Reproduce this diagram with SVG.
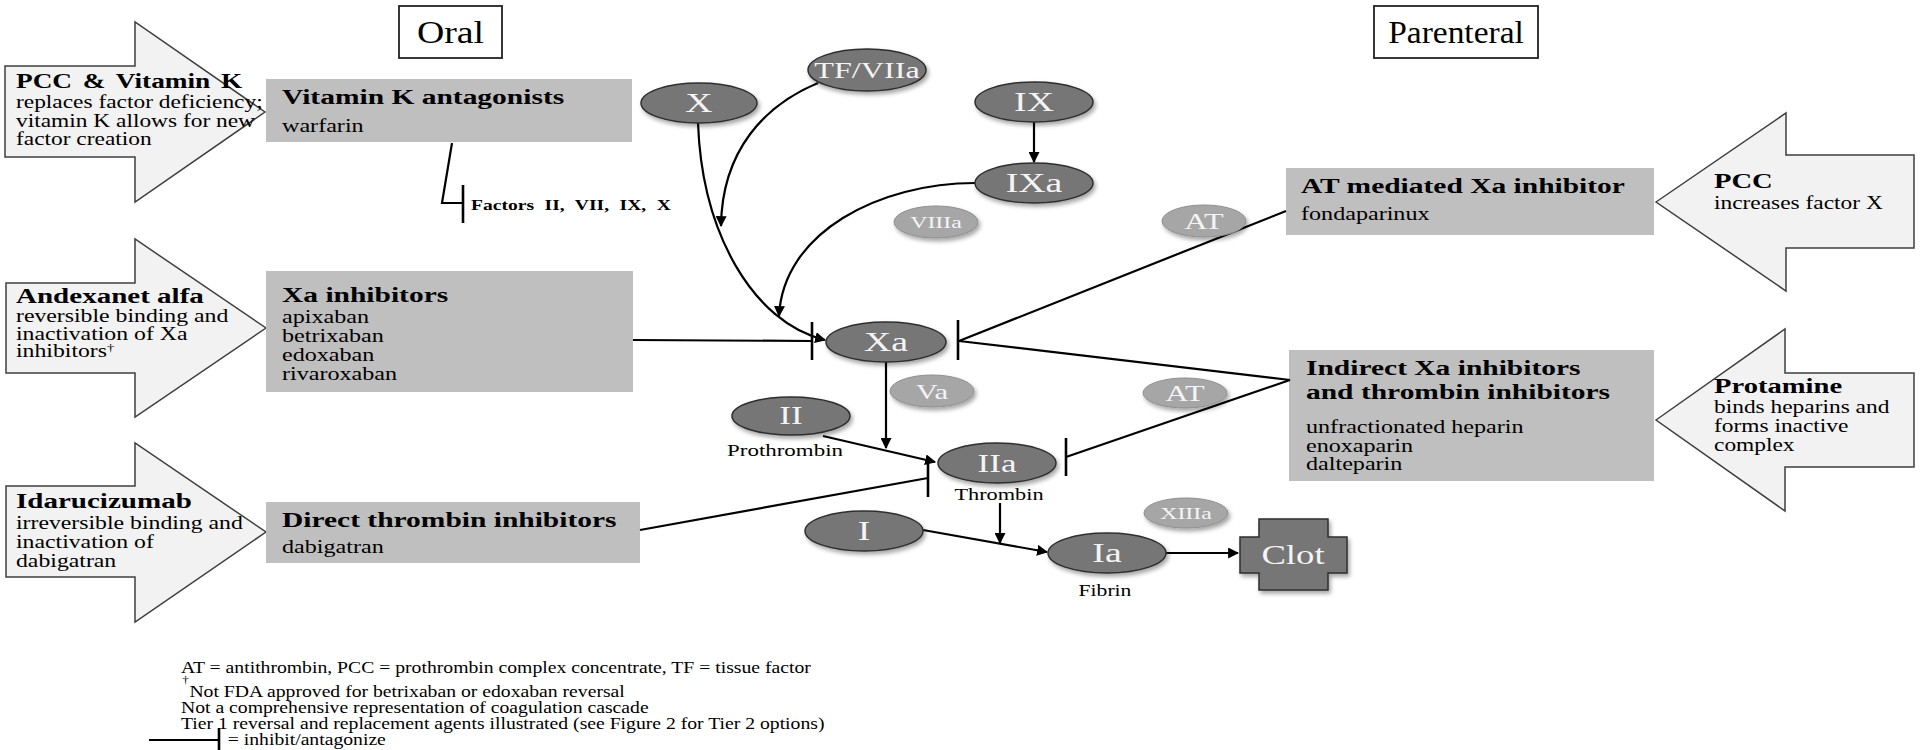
<svg xmlns="http://www.w3.org/2000/svg" width="1920" height="750" viewBox="0 0 1920 750">
<style>
.bg{fill:#fff}
.rev{fill:#f2f2f2;stroke:#3f3f3f;stroke-width:1.5}
.gbox{fill:#bfbfbf}
.hdr{fill:#fff;stroke:#222;stroke-width:1.8}
.dk{fill:#767676;stroke:#2e2e2e;stroke-width:1.5;filter:url(#sh)}
.lt{fill:#a6a6a6;stroke:#8e8e8e;stroke-width:1;filter:url(#sh)}
.t{font-family:"Liberation Serif","Times New Roman",serif;fill:#000}
.b{font-weight:bold}
.w{font-family:"Liberation Serif","Times New Roman",serif;fill:#f4f4f4;text-anchor:middle}
.c{stroke:#000;stroke-width:2.2;fill:none}
.bar{stroke:#000;stroke-width:2.6;fill:none}
.a{marker-end:url(#ah)}
</style>
<defs>
<filter id="sh" x="-20%" y="-30%" width="150%" height="170%">
<feDropShadow dx="2" dy="3" stdDeviation="2" flood-color="#000" flood-opacity="0.35"/>
</filter>
<marker id="ah" viewBox="0 0 10 10" refX="9" refY="5" markerWidth="5" markerHeight="5" orient="auto" markerUnits="strokeWidth">
<path d="M0,0 L10,5 L0,10 z" fill="#000"/>
</marker>
</defs>
<rect class="bg" x="0" y="0" width="1920" height="750"/>

<g id="hdr-oral">
<rect class="hdr" x="399" y="6" width="103" height="52"/>
<text class="t" font-size="31" text-anchor="middle" transform="matrix(1.22 0 0 1 450.5 43)">Oral</text>
</g>
<g id="hdr-parenteral">
<rect class="hdr" x="1374" y="6" width="164" height="52"/>
<text class="t" font-size="31" text-anchor="middle" transform="matrix(1.08 0 0 1 1456 43)">Parenteral</text>
</g>

<g id="rev-pcc-vitk">
<polygon class="rev" points="5,66 135,66 135,22 265,112 135,202 135,157 5,157"/>
<g transform="matrix(1.3 0 0 1 16 0)">
<text class="t b" font-size="21" y="88" word-spacing="3">PCC &amp; Vitamin K</text>
<text class="t" font-size="18" y="108">replaces factor deficiency;</text>
<text class="t" font-size="18" y="127">vitamin K allows for new</text>
<text class="t" font-size="18" y="145">factor creation</text>
</g>
</g>
<g id="rev-andexanet">
<polygon class="rev" points="6,283 135,283 135,239 266,328 135,417 135,373 6,373"/>
<g transform="matrix(1.32 0 0 1 16 0)">
<text class="t b" font-size="22" y="303">Andexanet alfa</text>
<text class="t" font-size="18" y="322">reversible binding  and</text>
<text class="t" font-size="18" y="340">inactivation  of Xa</text>
<text class="t" font-size="18" y="357">inhibitors<tspan font-size="11" dy="-6">†</tspan></text>
</g>
</g>
<g id="rev-idarucizumab">
<polygon class="rev" points="6,486 135,486 135,443 266,532 135,622 135,577 6,577"/>
<g transform="matrix(1.32 0 0 1 16 0)">
<text class="t b" font-size="22" y="508">Idarucizumab</text>
<text class="t" font-size="18" y="529">irreversible binding  and</text>
<text class="t" font-size="18" y="548">inactivation  of</text>
<text class="t" font-size="18" y="567">dabigatran</text>
</g>
</g>
<g id="rev-pcc">
<polygon class="rev" points="1656,202 1786,113 1786,155 1914,155 1914,248 1786,248 1786,291"/>
<g transform="matrix(1.3 0 0 1 1714 0)">
<text class="t b" font-size="22" y="188">PCC</text>
<text class="t" font-size="18" y="209">increases factor X</text>
</g>
</g>
<g id="rev-protamine">
<polygon class="rev" points="1656,420 1785,329 1785,373 1914,373 1914,467 1785,467 1785,511"/>
<g transform="matrix(1.3 0 0 1 1714 0)">
<text class="t b" font-size="22" y="393">Protamine</text>
<text class="t" font-size="18" y="413">binds heparins and</text>
<text class="t" font-size="18" y="432">forms inactive</text>
<text class="t" font-size="18" y="451">complex</text>
</g>
</g>

<g id="box-vka">
<rect class="gbox" x="266" y="79" width="366" height="63"/>
<g transform="matrix(1.34 0 0 1 282 0)">
<text class="t b" font-size="22" y="104">Vitamin K antagonists</text>
<text class="t" font-size="18" y="132">warfarin</text>
</g>
</g>
<g id="box-xa-inh">
<rect class="gbox" x="266" y="271" width="367" height="121"/>
<g transform="matrix(1.34 0 0 1 282 0)">
<text class="t b" font-size="22" y="302">Xa inhibitors</text>
<text class="t" font-size="18" y="323">apixaban</text>
<text class="t" font-size="18" y="342">betrixaban</text>
<text class="t" font-size="18" y="361">edoxaban</text>
<text class="t" font-size="18" y="380">rivaroxaban</text>
</g>
</g>
<g id="box-dti">
<rect class="gbox" x="266" y="502" width="374" height="61"/>
<g transform="matrix(1.34 0 0 1 282 0)">
<text class="t b" font-size="22" y="527">Direct thrombin  inhibitors</text>
<text class="t" font-size="18" y="553">dabigatran</text>
</g>
</g>
<g id="box-at-xa">
<rect class="gbox" x="1286" y="168" width="368" height="67"/>
<g transform="matrix(1.34 0 0 1 1301 0)">
<text class="t b" font-size="22" y="193">AT mediated Xa inhibitor</text>
<text class="t" font-size="18" y="220">fondaparinux</text>
</g>
</g>
<g id="box-indirect">
<rect class="gbox" x="1289" y="350" width="365" height="131"/>
<g transform="matrix(1.34 0 0 1 1306 0)">
<text class="t b" font-size="22" y="375">Indirect Xa inhibitors</text>
<text class="t b" font-size="22" y="399">and thrombin inhibitors</text>
<text class="t" font-size="18" y="433">unfractionated heparin</text>
<text class="t" font-size="18" y="452">enoxaparin</text>
<text class="t" font-size="18" y="470">dalteparin</text>
</g>
</g>

<g id="connectors">
<path class="c" d="M452,143 L442,203 L463,203"/>
<path class="bar" d="M463,185 L463,223"/>
<path class="c a" d="M698,123 C702,232 752,322 825,340"/>
<path class="c a" d="M818,83 C765,105 722,150 721,226"/>
<path class="c a" d="M1034,122 L1034,162"/>
<path class="c a" d="M975,183 C880,183 783,232 779,316"/>
<path class="c" d="M633,340 L812,341"/>
<path class="bar" d="M812,322 L812,360"/>
<path class="c" d="M1286,211 L959,341"/>
<path class="c" d="M1290,380 L959,341"/>
<path class="bar" d="M958,320 L958,360"/>
<path class="c" d="M1290,380 L1066,457"/>
<path class="bar" d="M1066,438 L1066,476"/>
<path class="c a" d="M886,362 L886,448"/>
<path class="c a" d="M823,436 L935,462"/>
<path class="c" d="M640,530 L928,478"/>
<path class="bar" d="M928,459 L928,497"/>
<path class="c a" d="M1000,503 L1000,543"/>
<path class="c a" d="M923,530 L1047,552"/>
<path class="c a" d="M1166,553 L1238,553"/>
</g>

<g id="lbl-factors">
<text class="t b" font-size="14" word-spacing="4" transform="matrix(1.4 0 0 1 471 210)">Factors II, VII, IX, X</text>
</g>

<g id="n-X"><ellipse class="dk" cx="699" cy="103" rx="58" ry="20"/><text class="w" font-size="27" transform="matrix(1.4 0 0 1 699 112)">X</text></g>
<g id="n-TFVIIa"><ellipse class="dk" cx="867" cy="70" rx="59" ry="21"/><text class="w" font-size="23" transform="matrix(1.4 0 0 1 867 78)">TF/VIIa</text></g>
<g id="n-IX"><ellipse class="dk" cx="1034" cy="102" rx="59" ry="20"/><text class="w" font-size="27" transform="matrix(1.4 0 0 1 1034 111)">IX</text></g>
<g id="n-IXa"><ellipse class="dk" cx="1034" cy="183" rx="59" ry="20"/><text class="w" font-size="27" transform="matrix(1.4 0 0 1 1034 192)">IXa</text></g>
<g id="n-VIIIa"><ellipse class="lt" cx="936" cy="222" rx="42" ry="16"/><text class="w" font-size="17" transform="matrix(1.4 0 0 1 936 228)">VIIIa</text></g>
<g id="n-AT1"><ellipse class="lt" cx="1204" cy="221" rx="42" ry="16"/><text class="w" font-size="23" transform="matrix(1.4 0 0 1 1204 229)">AT</text></g>
<g id="n-Xa"><ellipse class="dk" cx="886" cy="342" rx="60" ry="20"/><text class="w" font-size="27" transform="matrix(1.4 0 0 1 886 351)">Xa</text></g>
<g id="n-Va"><ellipse class="lt" cx="932" cy="391" rx="42" ry="16"/><text class="w" font-size="22" transform="matrix(1.4 0 0 1 932 399)">Va</text></g>
<g id="n-AT2"><ellipse class="lt" cx="1185" cy="393" rx="42" ry="15"/><text class="w" font-size="23" transform="matrix(1.4 0 0 1 1185 401)">AT</text></g>
<g id="n-II"><ellipse class="dk" cx="791" cy="416" rx="59" ry="19"/><text class="w" font-size="25" transform="matrix(1.4 0 0 1 791 424)">II</text>
<text class="t" font-size="17" text-anchor="middle" transform="matrix(1.35 0 0 1 785 456)">Prothrombin</text></g>
<g id="n-IIa"><ellipse class="dk" cx="997" cy="463" rx="59" ry="20"/><text class="w" font-size="25" transform="matrix(1.4 0 0 1 997 472)">IIa</text>
<text class="t" font-size="16.5" text-anchor="middle" transform="matrix(1.35 0 0 1 999 500)">Thrombin</text></g>
<g id="n-I"><ellipse class="dk" cx="864" cy="531" rx="59" ry="20"/><text class="w" font-size="27" transform="matrix(1.4 0 0 1 864 540)">I</text></g>
<g id="n-XIIIa"><ellipse class="lt" cx="1186" cy="513" rx="42" ry="15"/><text class="w" font-size="17" transform="matrix(1.4 0 0 1 1186 519)">XIIIa</text></g>
<g id="n-Ia"><ellipse class="dk" cx="1107" cy="553" rx="59" ry="20"/><text class="w" font-size="27" transform="matrix(1.4 0 0 1 1107 562)">Ia</text>
<text class="t" font-size="16" text-anchor="middle" transform="matrix(1.35 0 0 1 1105 596)">Fibrin</text></g>
<g id="n-Clot"><polygon class="dk" points="1259,519 1328,519 1328,537 1347,537 1347,573 1328,573 1328,590 1259,590 1259,573 1240,573 1240,537 1259,537"/><text class="w" font-size="27" transform="matrix(1.36 0 0 1 1293 564)">Clot</text></g>

<g id="footnote">
<g transform="matrix(1.2 0 0 1 181 0)">
<text class="t" font-size="16.4" y="673">AT = antithrombin, PCC = prothrombin complex concentrate, TF = tissue factor</text>
<text class="t" font-size="11" x="1" y="683">†</text>
<text class="t" font-size="16.4" x="7" y="697">Not FDA approved for betrixaban or edoxaban reversal</text>
<text class="t" font-size="16.4" y="713">Not a comprehensive representation of coagulation cascade</text>
<text class="t" font-size="16.4" y="729">Tier 1 reversal and replacement agents illustrated (see Figure 2 for Tier 2 options)</text>
<text class="t" font-size="16.4" x="39" y="745">= inhibit/antagonize</text>
</g>
<path class="c" stroke-width="2.6" d="M149,740 L219,740"/>
<path class="bar" stroke-width="3" d="M219,728 L219,750"/>
</g>
</svg>
